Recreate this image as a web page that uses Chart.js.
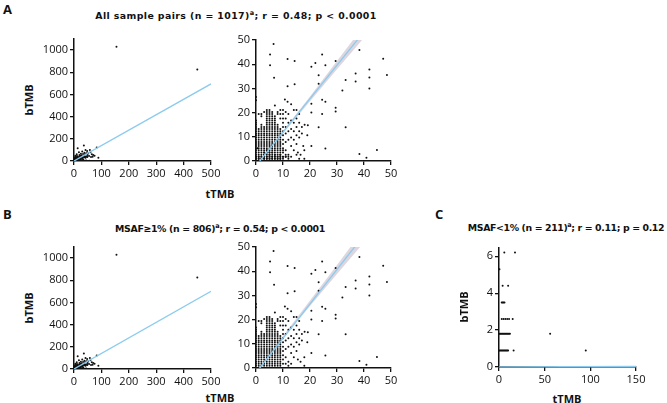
<!DOCTYPE html>
<html>
<head>
<meta charset="utf-8">
<script src="https://cdn.jsdelivr.net/npm/chart.js@4.4.1/dist/chart.umd.min.js"></script>
<style>
body { margin: 0; width: 667px; height: 403px; background: #fff; position: relative; overflow: hidden; font-family: "Open Sans", sans-serif; color: #111; }
.box { position: absolute; }
.txt { position: absolute; white-space: nowrap; transform: translate(-50%, -50%); }
.letter { position: absolute; font-weight: 700; font-size: 13px; }
.title { font-family: "DejaVu Sans", sans-serif; font-weight: 700; font-size: 9.4px; }
.title sup { font-size: 6.5px; }
.lab { font-weight: 700; font-size: 11px; }
.rot { transform: translate(-50%, -50%) rotate(-90deg); }
</style>
</head>
<body>

<div class="letter" style="left:3px;top:0px">A</div>
<div class="txt title" style="left:236px;top:15px;letter-spacing:0.4px">All sample pairs (n = 1017)<sup>a</sup>; r = 0.48; p &lt; 0.0001</div>
<div class="txt lab rot" style="left:28px;top:100px">bTMB</div>
<div class="txt lab" style="left:220px;top:193px">tTMB</div>
<div class="box" style="left:30px;top:30px"><canvas id="aWide" width="200" height="160"></canvas></div>
<div class="box" style="left:226px;top:30px"><canvas id="aZoom" width="180" height="160"></canvas></div>

<div class="letter" style="left:3px;top:205px">B</div>
<div class="txt title" style="left:220px;top:228px;letter-spacing:-0.35px">MSAF≥1% (n = 806)<sup>a</sup>; r = 0.54; p &lt; 0.0001</div>
<div class="txt lab rot" style="left:28px;top:308px">bTMB</div>
<div class="txt lab" style="left:220px;top:397px">tTMB</div>
<div class="box" style="left:30px;top:238px"><canvas id="bWide" width="200" height="160"></canvas></div>
<div class="box" style="left:226px;top:237px"><canvas id="bZoom" width="180" height="160"></canvas></div>

<div class="letter" style="left:435px;top:205px">C</div>
<div class="txt title" style="left:566px;top:227px;letter-spacing:-0.38px">MSAF&lt;1% (n = 211)<sup>a</sup>; r = 0.11; p = 0.12</div>
<div class="txt lab rot" style="left:463px;top:307px">bTMB</div>
<div class="txt lab" style="left:567px;top:398px">tTMB</div>
<div class="box" style="left:459px;top:238px"><canvas id="cChart" width="200" height="160"></canvas></div>

<script>
// dense columns of the MSAF>=1% cloud (tTMB column, bTMB values in it)
const denseX = [0, 1, 2, 3, 4, 5, 6, 7, 8, 9, 10];
const denseY = [
    [0, 0.9, 1.8, 2.6, 3.5, 4.4, 5.3, 6.2, 7.0, 7.9, 8.8, 9.7, 10.6, 11.4, 12.3, 13.2, 14.1, 15.0, 15.8, 16.7, 25.1, 26.4],
    [0, 0.9, 1.8, 2.6, 3.5, 4.4, 5.3, 6.2, 7.0, 7.9, 8.8, 9.7, 10.6, 11.4, 12.3, 13.2, 19.4],
    [0, 0.9, 1.8, 2.6, 3.5, 4.4, 5.3, 6.2, 7.0, 7.9, 8.8, 9.7, 10.6, 11.4, 12.3, 13.2, 14.1, 15.0, 18.5, 19.4],
    [0, 0.9, 1.8, 2.6, 3.5, 4.4, 5.3, 6.2, 7.0, 7.9, 8.8, 9.7, 10.6, 11.4, 12.3, 13.2, 14.1, 20.2],
    [0, 0.9, 1.8, 2.6, 3.5, 4.4, 5.3, 6.2, 7.0, 7.9, 8.8, 9.7, 10.6, 11.4, 12.3, 13.2, 14.1, 15.0, 15.8, 16.7, 17.6, 18.5, 19.4, 20.2, 21.1],
    [0, 0.9, 1.8, 2.6, 3.5, 4.4, 5.3, 6.2, 7.0, 7.9, 8.8, 9.7, 10.6, 11.4, 12.3, 13.2, 14.1, 15.0, 15.8, 16.7, 17.6, 18.5, 19.4, 20.2, 21.1],
    [0, 0.9, 1.8, 2.6, 3.5, 4.4, 5.3, 6.2, 7.0, 7.9, 8.8, 9.7, 10.6, 11.4, 12.3, 13.2, 14.1, 15.0, 15.8, 16.7, 17.6, 18.5, 19.4, 20.2],
    [0, 0.9, 1.8, 2.6, 3.5, 4.4, 5.3, 6.2, 7.0, 7.9, 8.8, 9.7, 10.6, 11.4, 12.3, 13.2, 14.1, 15.0, 15.8, 16.7, 17.6, 18.5, 22.9],
    [0, 0.9, 1.8, 2.6, 3.5, 4.4, 5.3, 6.2, 7.0, 7.9, 8.8, 9.7, 10.6, 11.4, 12.3, 13.2, 14.1, 15.0, 19.4, 20.2],
    [0, 0.9, 1.8, 2.6, 3.5, 4.4, 5.3, 6.2, 7.0, 7.9, 8.8, 9.7, 10.6, 11.4, 12.3, 13.2, 17.6, 19.4, 21.1],
    [1.8, 3.5, 5.3, 7.0, 8.8, 10.6, 12.3, 14.1, 15.8, 17.6, 19.4, 21.1]
];

// scattered MSAF>=1% points, [tTMB, bTMB]
const sparseB = [
    [6.5, 48.3], [5.2, 44], [5.2, 39.6], [6.7, 34.4], [11.7, 42.1], [14.3, 41.3], [11.7, 30.9], [14.3, 31.7],
    [10.7, 25.4], [11.7, 24.5], [13, 23.5], [20.5, 38.9], [22, 40.5], [24.5, 44], [25.7, 39.6], [23.2, 35.4],
    [23.2, 31.9], [29.5, 41.3], [38.3, 45.9], [36.9, 36.2], [36.9, 32.8], [33.2, 33.5], [32, 29.1], [42, 37.8],
    [42, 34.5], [42, 30], [24.5, 25.3], [25.7, 24.5], [20.5, 23.7], [20.5, 20], [29.5, 22], [29.5, 20.5],
    [24.5, 19.4], [23.2, 13.9], [33.2, 13.9], [19.2, 14.8], [20.5, 6.2], [25.7, 5.2], [17.9, 4.4], [17.9, 0.9],
    [38.3, 2.9], [40.9, 1.3], [44.8, 4.5], [48.5, 35.5], [47.1, 42.3],
    [11, 20.2], [11, 17.6], [11, 14.1], [11, 11.4], [11, 7.9], [11, 4.4], [11, 1.8], [12, 19.4], [12, 15.8],
    [12, 12.3], [12, 8.8], [12, 2.6], [12, 0.9], [13, 16.7], [13, 13.2], [13, 9.7], [13, 6.2], [13, 1.8],
    [14, 21.1], [14, 15.8], [14, 12.3], [14, 8.8], [14, 4.4], [15, 21.1], [15, 17.6], [15, 14.1], [15, 10.6],
    [15, 7.0], [15.5, 3.5], [16, 19.4], [16, 15.8], [16, 12.3], [16, 9.7], [17, 14.1], [17, 11.4], [16.5, 2.6],
    [18, 15.0], [19, 10.6]
];

// MSAF>=1% points only visible on the wide axes
const wideB = [
    [13.5, 115], [36, 139], [83, 121], [58, 100], [68, 39], [89, 30], [155, 1030], [450, 825], [30, 85],
    [45, 70], [50, 55], [40, 60], [25, 65], [60, 80], [20, 55], [55, 45], [65, 60], [48, 90], [38, 75],
    [28, 52], [10, 60], [70, 55], [42, 100], [33, 62], [52, 72], [18, 80], [62, 35], [75, 48]
];

// MSAF<1% points, [tTMB, bTMB]
const cPoints = [
    [5.8, 6.2], [17.5, 6.2], [0.5, 5.3], [4, 4.4], [10, 4.4], [3, 3.5], [4, 3.5], [5, 3.5], [6, 3.5],
    [3, 2.6], [5, 2.6], [7, 2.6], [9, 2.6], [11, 2.6], [15, 2.6],
    [0, 1.8], [1, 1.8], [2, 1.8], [3, 1.8], [4, 1.8], [5, 1.8], [6, 1.8], [7, 1.8], [8, 1.8], [9, 1.8],
    [10, 1.8], [11, 1.8], [12, 1.8], [56, 1.8],
    [0, 0.9], [1, 0.9], [2, 0.9], [3, 0.9], [4, 0.9], [5, 0.9], [6, 0.9], [7, 0.9], [8, 0.9], [9, 0.9],
    [10, 0.9], [16, 0.9], [95, 0.9],
    [0, 0], [1, 0], [2, 0], [3, 0], [4, 0], [5, 0], [6, 0], [7, 0], [8, 0], [9, 0], [10, 0], [11, 0],
    [12, 0], [13, 0], [14, 0], [15, 0], [16, 0], [18, 0], [19.2, 0], [20, 0], [23.2, 0], [25, 0],
    [76, 0], [80, 0], [85, 0], [147, 0]
];

// regression fits and 95% bands
const fitWideX = [0, 500];
const fitWideA = [0, 695];
const fitWideB = [0, 700];
const fitZoomX = [1.4, 50];
const fitZoomA = [0, 67.3];
const fitZoomB = [0, 69.2];
const bandX = [1, 10, 20, 30, 40, 50];
const bandHiA = [-0.2, 12.3, 26.7, 41.3, 56.0, 70.8];
const bandLoA = [-0.9, 11.4, 24.7, 37.9, 50.9, 63.9];
const bandHiB = [0.1, 13.2, 27.9, 42.6, 57.5, 72.5];
const bandLoB = [-0.6, 12.2, 25.6, 38.8, 51.9, 65.0];
const fitCX = [0, 150];
const fitCY = [0, 0.02];

// tick labels
const xTicksWide = [0, 100, 200, 300, 400, 500];
const yTicksWide = [0, 200, 400, 600, 800, 1000];
const xTicksZoom = [0, 10, 20, 30, 40, 50];
const yTicksZoom = [0, 10, 20, 30, 40, 50];
const xTicksC = [0, 50, 100, 150];
const yTicksC = [0, 2, 4, 6];

const INK = '#111';
const FIT = '#8ccbee';
const BAND = 'rgba(218,210,220,0.9)';
const NONE = 'rgba(0,0,0,0)';

function xy(pairs) {
    return pairs.map(p => ({ x: p[0], y: p[1] }));
}
function zip(xs, ys) {
    return xs.map((x, i) => ({ x: x, y: ys[i] }));
}

const densePts = [];
denseX.forEach((x, i) => denseY[i].forEach(y => densePts.push({ x: x, y: y })));

const ptsB = densePts.concat(xy(sparseB), xy(wideB));
const ptsA = ptsB.concat(xy(cPoints));

function axis(min, max, ticks, pos, fit) {
    return {
        type: 'linear',
        position: pos,
        min: min,
        max: max,
        grid: { display: true, drawOnChartArea: false, drawTicks: true, tickLength: 4, color: INK, lineWidth: 1.3 },
        border: { display: true, color: INK, width: 1.5 },
        afterBuildTicks: s => { s.ticks = ticks.map(v => ({ value: v })); },
        afterFit: fit,
        ticks: {
            color: INK, padding: 2, autoSkip: false, maxRotation: 0,
            font: { family: 'Open Sans', size: 11 },
            callback: v => String(v)
        }
    };
}

function pointSet(pts) {
    return { data: pts, pointRadius: 1.0, pointBorderWidth: 0, pointBackgroundColor: INK, borderColor: NONE, order: 1 };
}
function lineSet(pts, w) {
    return { data: pts, showLine: true, borderColor: FIT, borderWidth: w || 1.3, pointRadius: 0, clip: 0, order: 0 };
}
function bandSets(hi, lo) {
    return [
        { data: hi, showLine: true, borderColor: NONE, borderWidth: 0.01, pointRadius: 0, fill: '+1', backgroundColor: BAND, clip: 0, order: 2 },
        { data: lo, showLine: true, borderColor: NONE, borderWidth: 0.01, pointRadius: 0, fill: false, clip: 0, order: 3 }
    ];
}

function makeChart(id, pad, yW, xr, yr, xt, yt, datasets) {
    return new Chart(document.getElementById(id).getContext('2d'), {
        type: 'scatter',
        data: { datasets: datasets },
        options: {
            responsive: false,
            animation: false,
            events: [],
            layout: { padding: pad },
            plugins: { legend: { display: false }, tooltip: { enabled: false } },
            scales: {
                x: axis(xr[0], xr[1], xt, 'bottom', s => { s.height = 20; }),
                y: axis(yr[0], yr[1], yt, 'left', s => { s.width = yW; })
            }
        }
    });
}

// Panel A
makeChart('aWide', { left: 4, top: 9, right: 19, bottom: 9 }, 40, [0, 500], [0, 1100], xTicksWide, yTicksWide,
    [pointSet(ptsA), lineSet(zip(fitWideX, fitWideA))]);
makeChart('aZoom', { left: 0, top: 10, right: 15, bottom: 9 }, 30, [0, 50], [0, 50], xTicksZoom, yTicksZoom,
    [pointSet(ptsA), lineSet(zip(fitZoomX, fitZoomA))].concat(bandSets(zip(bandX, bandHiA), zip(bandX, bandLoA))));

// Panel B
makeChart('bWide', { left: 4, top: 9, right: 19, bottom: 9 }, 40, [0, 500], [0, 1100], xTicksWide, yTicksWide,
    [pointSet(ptsB), lineSet(zip(fitWideX, fitWideB))]);
makeChart('bZoom', { left: 0, top: 10, right: 15, bottom: 9 }, 30, [0, 50], [0, 50], xTicksZoom, yTicksZoom,
    [pointSet(ptsB), lineSet(zip(fitZoomX, fitZoomB))].concat(bandSets(zip(bandX, bandHiB), zip(bandX, bandLoB))));

// Panel C
makeChart('cChart', { left: 10, top: 10, right: 23, bottom: 11 }, 30, [0, 150], [0, 6.45], xTicksC, yTicksC,
    [pointSet(xy(cPoints)), lineSet(zip(fitCX, fitCY), 1.6)]);
</script>
</body>
</html>
